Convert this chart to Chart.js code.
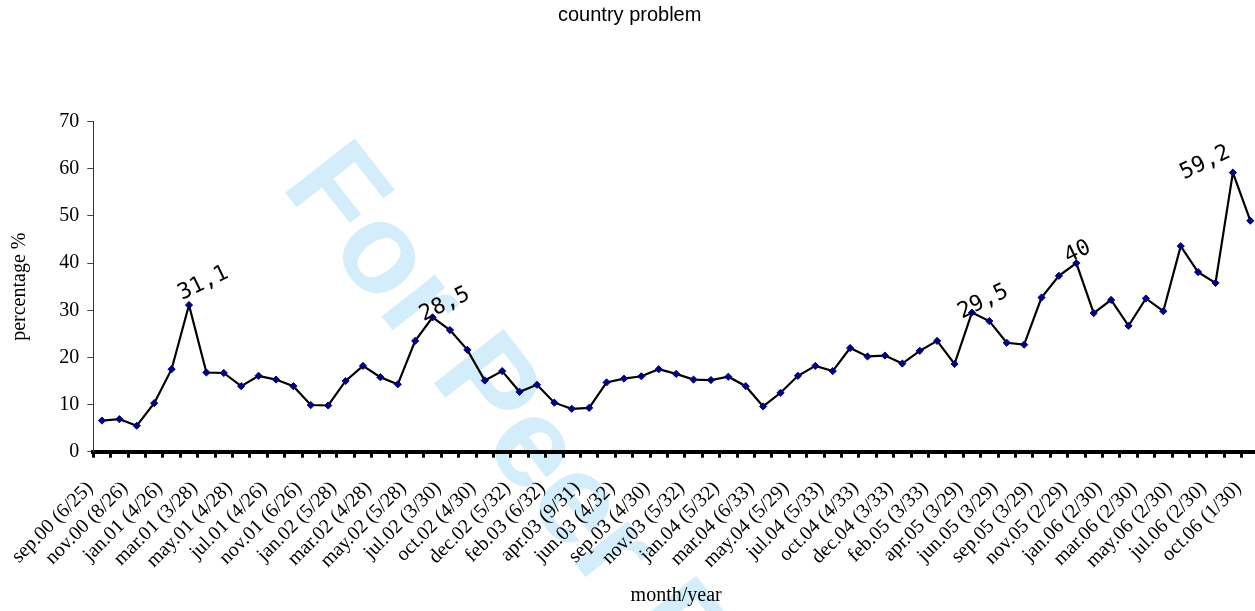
<!DOCTYPE html>
<html>
<head>
<meta charset="utf-8">
<script src="https://cdn.jsdelivr.net/npm/chart.js"></script>
<style>
  html, body { margin: 0; padding: 0; background: #fff; overflow: hidden; }
  canvas { display: block; }
</style>
</head>
<body>
<canvas id="c" width="1264" height="611"></canvas>
<script>
// ---- data ----
const categories = [
  'sep.00 (6/25)', 'oct.00', 'nov.00 (8/26)', 'dec.00', 'jan.01 (4/26)', 'feb.01',
  'mar.01 (3/28)', 'apr.01', 'may.01 (4/28)', 'jun.01', 'jul.01 (4/26)', 'sep.01',
  'nov.01 (6/26)', 'dec.01', 'jan.02 (5/28)', 'feb.02', 'mar.02 (4/28)', 'apr.02',
  'may.02 (5/28)', 'jun.02', 'jul.02 (3/30)', 'sep.02', 'oct.02 (4/30)', 'nov.02',
  'dec.02 (5/32)', 'jan.03', 'feb.03 (6/32)', 'mar.03', 'apr.03 (9/31)', 'may.03',
  'jun.03 (4/32)', 'jul.03', 'sep.03 (4/30)', 'oct.03', 'nov.03 (5/32)', 'dec.03',
  'jan.04 (5/32)', 'feb.04', 'mar.04 (6/33)', 'apr.04', 'may.04 (5/29)', 'jun.04',
  'jul.04 (5/33)', 'sep.04', 'oct.04 (4/33)', 'nov.04', 'dec.04 (3/33)', 'jan.05',
  'feb.05 (3/33)', 'mar.05', 'apr.05 (3/29)', 'may.05', 'jun.05 (3/29)', 'jul.05',
  'sep.05 (3/29)', 'oct.05', 'nov.05 (2/29)', 'dec.05', 'jan.06 (2/30)', 'feb.06',
  'mar.06 (2/30)', 'apr.06', 'may.06 (2/30)', 'jun.06', 'jul.06 (2/30)', 'sep.06',
  'oct.06 (1/30)'
];
const percentages = [
  6.6, 6.9, 5.5, 10.3, 17.5, 31.1, 16.8, 16.7, 13.9, 16.1,
  15.3, 13.9, 9.9, 9.8, 15.0, 18.2, 15.8, 14.3, 23.5, 28.5,
  25.8, 21.6, 15.1, 17.1, 12.7, 14.2, 10.4, 9.1, 9.3, 14.7,
  15.5, 16.0, 17.5, 16.5, 15.3, 15.2, 15.9, 13.9, 9.6, 12.5,
  16.1, 18.2, 17.1, 22.0, 20.2, 20.4, 18.7, 21.4, 23.5, 18.6,
  29.5, 27.7, 23.1, 22.7, 32.7, 37.3, 40.0, 29.4, 32.2, 26.7,
  32.5, 29.8, 43.6, 38.1, 35.8, 59.2, 49.0
];
const yTicks = [0, 10, 20, 30, 40, 50, 60, 70];
const peakIndices = [5, 19, 50, 56, 65];
const peakTexts = ['31,1', '28,5', '29,5', '40', '59,2'];

// ---- styling of annotations (not data) ----
const peakTextOffsets = [[-7, -5], [-9, 4], [-10, 6], [-8, 0], [-49, 7]];

const watermarkPlugin = {
  id: 'watermark',
  beforeDraw(chart) {
    const ctx = chart.ctx;
    ctx.save();
    ctx.translate(280, 186);
    ctx.rotate(52 * Math.PI / 180);
    ctx.font = 'bold 128px "Liberation Sans"';
    ctx.fillStyle = '#d3eefa';
    ctx.textBaseline = 'alphabetic';
    ctx.textAlign = 'left';
    ctx.fillText('For Peer Review', 0, 0);
    ctx.restore();
  }
};

const peakLabelPlugin = {
  id: 'peakLabels',
  afterDatasetsDraw(chart) {
    const meta = chart.getDatasetMeta(0);
    const ctx = chart.ctx;
    ctx.save();
    ctx.font = '22px "DejaVu Sans Mono"';
    ctx.fillStyle = '#000';
    ctx.textBaseline = 'alphabetic';
    ctx.textAlign = 'left';
    peakIndices.forEach((idx, k) => {
      const p = meta.data[idx];
      const off = peakTextOffsets[k];
      ctx.save();
      ctx.translate(p.x + off[0], p.y + off[1]);
      ctx.rotate(-26 * Math.PI / 180);
      ctx.fillText(peakTexts[k], 0, 0);
      ctx.restore();
    });
    ctx.restore();
  }
};

new Chart(document.getElementById('c'), {
  type: 'line',
  data: {
    labels: categories,
    datasets: [{
      data: percentages,
      borderColor: '#000',
      borderWidth: 2.2,
      tension: 0,
      pointStyle: 'rectRot',
      pointRadius: 3.6,
      pointBackgroundColor: '#000080',
      pointBorderColor: '#000080',
      pointBorderWidth: 1
    }]
  },
  options: {
    responsive: false,
    animation: false,
    layout: { padding: { left: 0, right: 4.6, top: 0, bottom: 0 } },
    plugins: {
      legend: { display: false },
      tooltip: { enabled: false },
      title: {
        display: true,
        text: 'country problem',
        color: '#000',
        font: { family: '"Liberation Sans"', size: 20, weight: 'normal', lineHeight: 1.2 },
        padding: { top: 3, bottom: 94.7 }
      }
    },
    scales: {
      x: {
        type: 'category',
        offset: true,
        grid: {
          offset: true,
          drawOnChartArea: false,
          drawTicks: true,
          tickLength: 6,
          tickWidth: 3,
          tickColor: '#000',
          color: '#000'
        },
        border: { display: true, color: '#000', width: 4 },
        ticks: {
          autoSkip: false,
          minRotation: 45,
          maxRotation: 45,
          labelOffset: -12,
          padding: 19,
          color: '#000',
          font: { family: '"Liberation Serif"', size: 20 },
          callback: function(value, index) {
            return index % 2 === 0 ? categories[index] : '';
          }
        },
        title: {
          display: true,
          text: 'month/year',
          color: '#000',
          font: { family: '"Liberation Serif"', size: 20, lineHeight: 1.2 },
          padding: { top: 0, bottom: 3 }
        },
        afterFit(scale) {
          scale.height = 159.3;
          scale.paddingLeft = 0;
          scale.paddingRight = 0;
        }
      },
      y: {
        min: 0,
        max: 70,
        afterBuildTicks(scale) { scale.ticks = yTicks.map(v => ({ value: v })); },
        grid: {
          drawOnChartArea: false,
          drawTicks: true,
          tickLength: 6,
          color: '#444'
        },
        border: { display: true, color: '#333', width: 1 },
        ticks: {
          padding: 8,
          color: '#000',
          font: { family: '"Liberation Serif"', size: 20 }
        },
        title: {
          display: true,
          text: 'percentage %',
          color: '#000',
          font: { family: '"Liberation Serif"', size: 20, lineHeight: 1.2 },
          padding: { top: 8, bottom: 0 }
        },
        afterFit(scale) { scale.width = 93.3; }
      }
    }
  },
  plugins: [watermarkPlugin, peakLabelPlugin]
});
</script>
</body>
</html>
